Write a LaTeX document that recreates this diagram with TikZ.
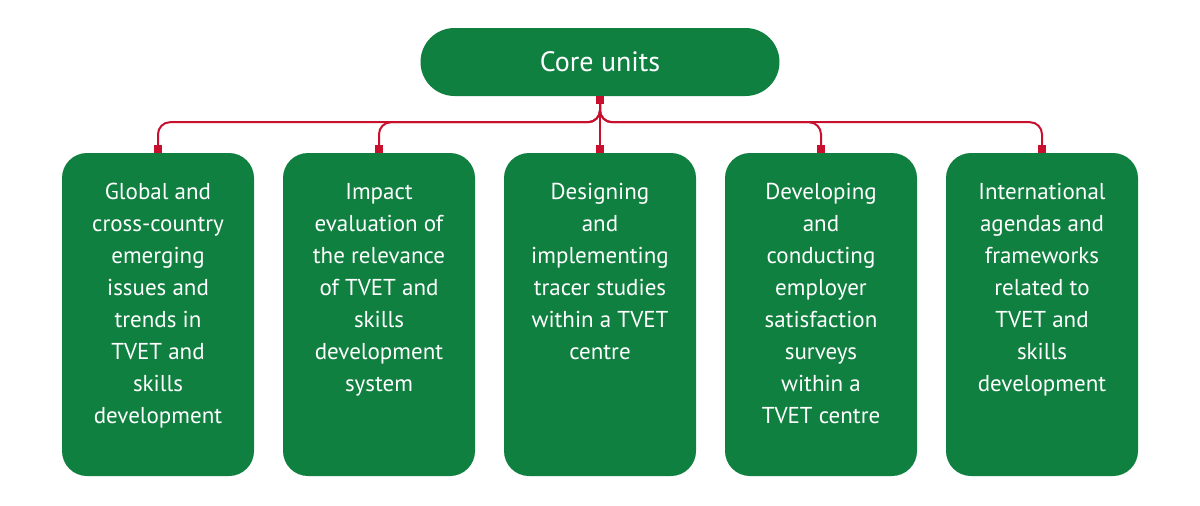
\documentclass[tikz,border=0pt]{standalone}
\usepackage{fontspec}
\setmainfont{PT Sans}
\usepackage{xcolor}
\usetikzlibrary{positioning,arrows.meta}

\definecolor{unitgreen}{RGB}{16,128,64}
\definecolor{linkred}{RGB}{200,16,46}
\newcommand{\unittext}[1]{\parbox[c][263pt][t]{185pt}{\centering #1}}

\tikzset{
  core/.style={fill=unitgreen, text=white, rounded corners=34pt, minimum width=359pt, minimum height=68pt, inner sep=0pt, font=\fontsize{28}{32}\selectfont},
  unit/.style={fill=unitgreen, text=white, rounded corners=25pt, minimum width=192pt, minimum height=323pt, inner sep=0pt, outer sep=0pt, font=\fontsize{23}{32}\selectfont},
  link/.style={draw=linkred, line width=2pt, rounded corners=12pt, {Square[length=8pt,width=8pt]}-{Square[length=8pt,width=8pt]}}
}

\begin{document}
\begin{tikzpicture}[x=1pt, y=1pt, node distance=29pt]
    \useasboundingbox (0,0) rectangle (1200,-506);

    % Top node
    \node[core] (core) at (600,-62) {Core units};

    % Units
    \node[unit] (u1) at (158,-314.5) {\unittext{Global and\\cross-country\\emerging\\issues and\\trends in\\TVET and\\skills\\development}};
    \node[unit, right=of u1] (u2) {\unittext{Impact\\evaluation of\\the relevance\\of TVET and\\skills\\development\\system}};
    \node[unit, right=of u2] (u3) {\unittext{Designing\\and\\implementing\\tracer studies\\within a TVET\\centre}};
    \node[unit, right=of u3] (u4) {\unittext{Developing\\and\\conducting\\employer\\satisfaction\\surveys\\within a\\TVET centre}};
    \node[unit, right=of u4] (u5) {\unittext{International\\agendas and\\frameworks\\related to\\TVET and\\skills\\development}};

    % Connectors
    \foreach \i in {1,...,5}
        \draw[link] (core.south) -- ++(0,-26) -| (u\i.north);
\end{tikzpicture}
\end{document}
